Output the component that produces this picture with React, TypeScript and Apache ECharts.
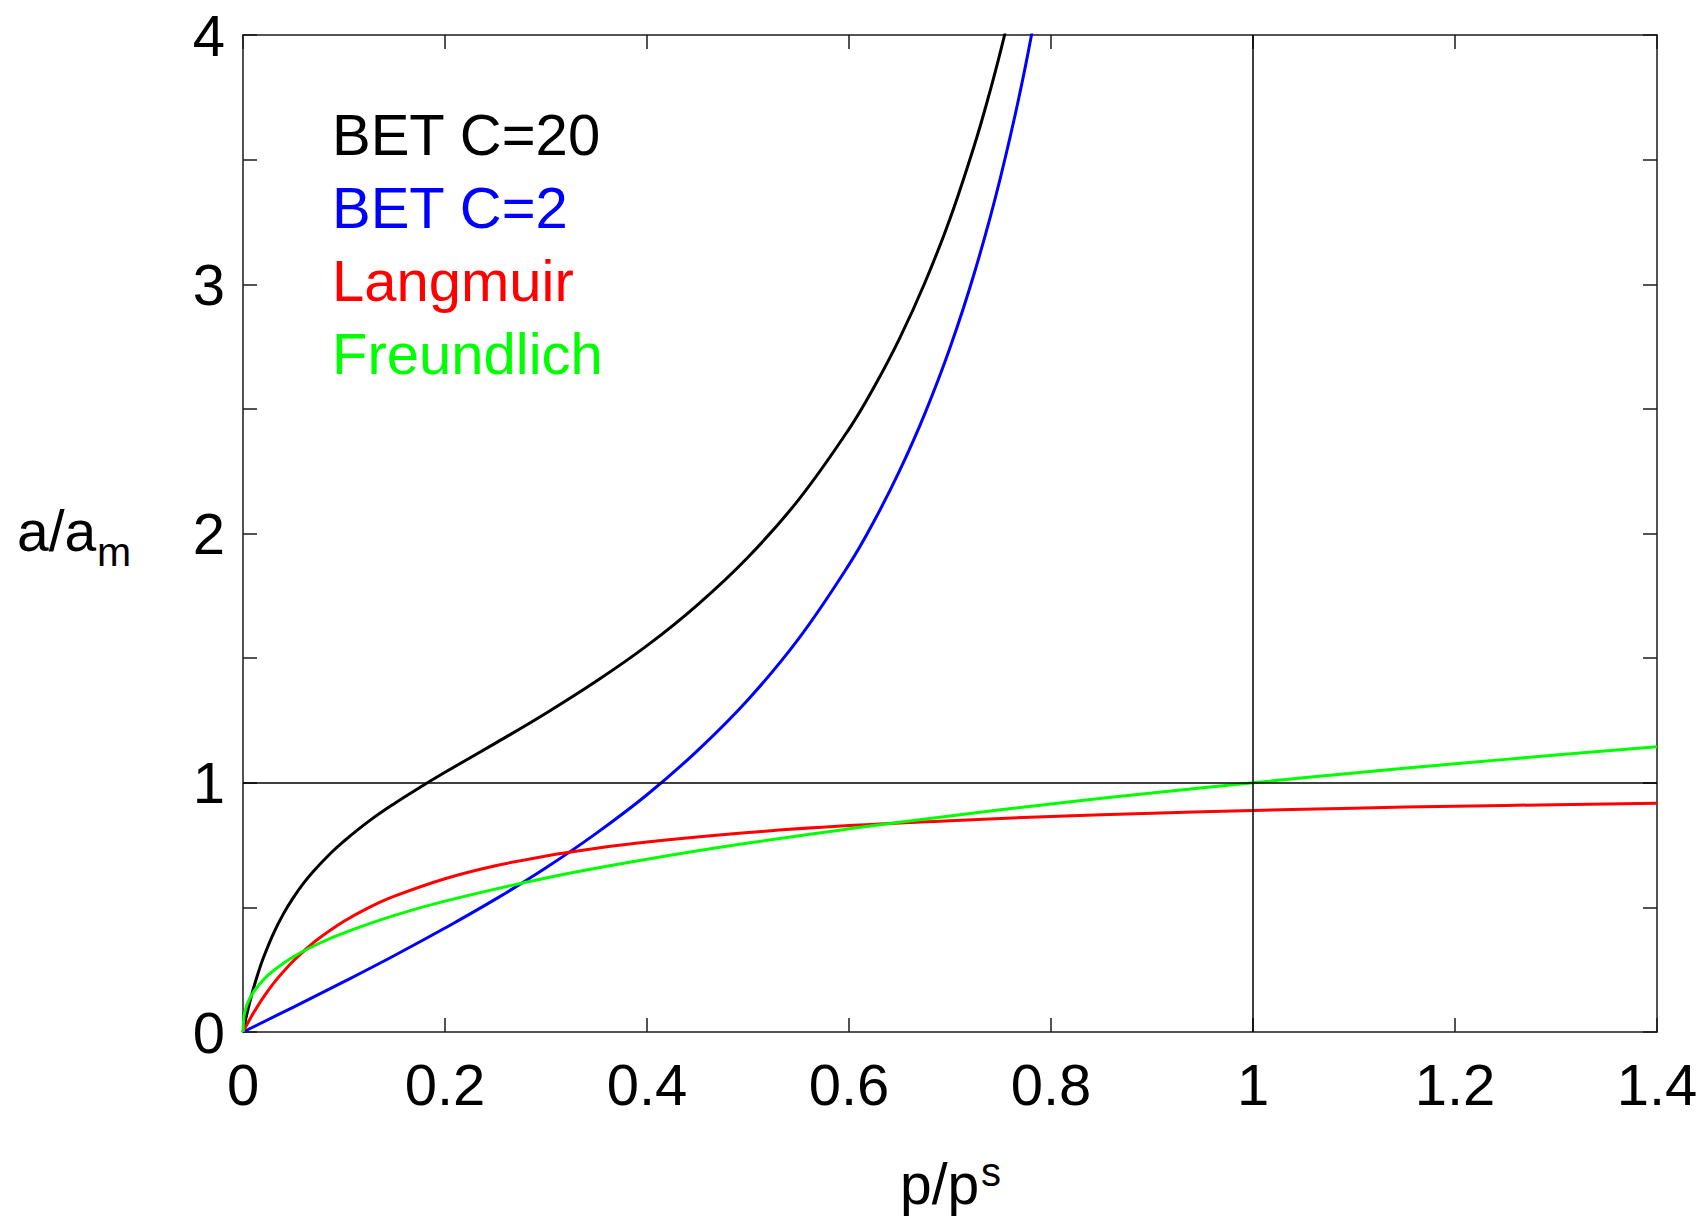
import React, { useEffect, useRef } from 'react';
import * as echarts from 'echarts';

const FONT = '"Liberation Sans", Arial, Helvetica, sans-serif';

// Series names and colours
const seriesNames = ['BET C=20', 'BET C=2', 'Langmuir', 'Freundlich'];
const seriesColors = ['#000000', '#0000ff', '#ff0000', '#00ff00'];

// BET C=20
const bet20X = [0, 0.0025, 0.005, 0.01, 0.015, 0.02, 0.03, 0.04, 0.05, 0.06, 0.07, 0.0875, 0.1, 0.125, 0.15, 0.175, 0.2, 0.25, 0.3, 0.35, 0.4, 0.45, 0.5, 0.55, 0.6, 0.625, 0.65, 0.675, 0.7, 0.725, 0.74, 0.75, 0.76, 0.775];
const bet20Y = [0, 0.048, 0.092, 0.17, 0.237, 0.296, 0.394, 0.474, 0.54, 0.597, 0.646, 0.72, 0.766, 0.847, 0.917, 0.981, 1.042, 1.159, 1.279, 1.408, 1.55, 1.714, 1.905, 2.135, 2.419, 2.589, 2.782, 3.005, 3.263, 3.569, 3.78, 3.934, 4.102, 4.381];

// BET C=2
const bet2X = [0, 0.05, 0.1, 0.15, 0.2, 0.25, 0.3, 0.35, 0.4, 0.45, 0.5, 0.55, 0.6, 0.625, 0.65, 0.675, 0.7, 0.725, 0.75, 0.775, 0.8];
const bet2Y = [0, 0.1, 0.202, 0.307, 0.417, 0.533, 0.659, 0.798, 0.952, 1.129, 1.333, 1.577, 1.875, 2.051, 2.251, 2.48, 2.745, 3.057, 3.429, 3.881, 4.444];

// Langmuir
const langX = [0, 0.0025, 0.005, 0.01, 0.015, 0.02, 0.03, 0.04, 0.05, 0.0625, 0.075, 0.1, 0.125, 0.15, 0.2, 0.25, 0.3, 0.35, 0.4, 0.5, 0.6, 0.7, 0.8, 0.9, 1.0, 1.1, 1.2, 1.3, 1.4];
const langY = [0, 0.02, 0.038, 0.074, 0.107, 0.138, 0.194, 0.242, 0.286, 0.333, 0.375, 0.444, 0.5, 0.545, 0.615, 0.667, 0.706, 0.737, 0.762, 0.8, 0.828, 0.848, 0.865, 0.878, 0.889, 0.898, 0.906, 0.912, 0.918];

// Freundlich
const freuX = [0, 0.001, 0.0025, 0.005, 0.01, 0.02, 0.03, 0.05, 0.075, 0.1, 0.15, 0.2, 0.3, 0.4, 0.5, 0.6, 0.7, 0.8, 0.9, 1.0, 1.1, 1.2, 1.3, 1.4];
const freuY = [0, 0.063, 0.091, 0.12, 0.158, 0.209, 0.246, 0.302, 0.355, 0.398, 0.468, 0.525, 0.618, 0.693, 0.758, 0.815, 0.867, 0.915, 0.959, 1.0, 1.039, 1.076, 1.111, 1.144];

// Axis ranges
const xMin = 0, xMax = 1.4, xStep = 0.2;
const yMin = 0, yMax = 4, yStep = 0.5;

// Reference lines
const refY = 1;
const refX = 1;

const allX = [bet20X, bet2X, langX, freuX];
const allY = [bet20Y, bet2Y, langY, freuY];

const axisLineStyle = { color: '#1a1a1a', width: 1.5 };

export default function App() {
  const ref = useRef<HTMLDivElement>(null);
  useEffect(() => {
    if (!ref.current) return;
    const chart = echarts.init(ref.current, undefined, { renderer: 'svg' });
    const tickCommon = { show: true, inside: true, length: 14, lineStyle: axisLineStyle };
    const option: any = {
      animation: false,
      backgroundColor: '#ffffff',
      grid: { left: 243, right: 47, top: 35, bottom: 190, containLabel: false },
      legend: {
        orient: 'vertical',
        left: 322,
        top: 100,
        icon: 'rect',
        itemWidth: 0,
        itemHeight: 0,
        itemGap: 15,
        selectedMode: false,
        textStyle: { fontSize: 58, fontFamily: FONT, lineHeight: 58 },
        data: seriesNames.map((n, i) => ({ name: n, textStyle: { color: seriesColors[i] } })),
      },
      xAxis: [
        {
          type: 'value', min: xMin, max: xMax, interval: xStep, position: 'bottom',
          axisLine: { show: true, onZero: false, lineStyle: axisLineStyle },
          axisTick: tickCommon,
          splitLine: { show: false },
          axisLabel: { show: true, margin: 23, fontSize: 58, fontFamily: FONT, color: '#000' },
        },
        {
          type: 'value', min: xMin, max: xMax, interval: xStep, position: 'top',
          axisLine: { show: true, onZero: false, lineStyle: axisLineStyle },
          axisTick: tickCommon,
          splitLine: { show: false },
          axisLabel: { show: false },
        },
      ],
      yAxis: [
        {
          type: 'value', min: yMin, max: yMax, interval: yStep, position: 'left',
          axisLine: { show: true, onZero: false, lineStyle: axisLineStyle },
          axisTick: tickCommon,
          splitLine: { show: false },
          axisLabel: {
            show: true, margin: 18, fontSize: 58, fontFamily: FONT, color: '#000',
            formatter: (v: number) => (Math.abs(v - Math.round(v)) < 1e-9 ? String(Math.round(v)) : ''),
          },
        },
        {
          type: 'value', min: yMin, max: yMax, interval: yStep, position: 'right',
          axisLine: { show: true, onZero: false, lineStyle: axisLineStyle },
          axisTick: tickCommon,
          splitLine: { show: false },
          axisLabel: { show: false },
        },
      ],
      series: seriesNames.map((name, i) => ({
        name,
        type: 'line',
        xAxisIndex: 0,
        yAxisIndex: 0,
        data: allX[i].map((x, j) => [x, allY[i][j]]),
        showSymbol: false,
        symbol: 'none',
        smooth: 0.4,
        clip: true,
        color: seriesColors[i],
        lineStyle: { color: seriesColors[i], width: 3 },
        z: 3,
        ...(i === 0
          ? {
              markLine: {
                silent: true,
                symbol: 'none',
                label: { show: false },
                lineStyle: { color: '#000', width: 1.5, type: 'solid' },
                data: [{ yAxis: refY }, { xAxis: refX }],
                z: 5,
              },
            }
          : {}),
      })),
      graphic: [
        { type: 'text', x: 17, y: 531, style: { text: 'a/a', font: `57px ${FONT}`, fill: '#000', verticalAlign: 'middle', align: 'left' } },
        { type: 'text', x: 97, y: 552, style: { text: 'm', font: `41px ${FONT}`, fill: '#000', verticalAlign: 'middle', align: 'left' } },
        { type: 'text', x: 900, y: 1184, style: { text: 'p/p', font: `57px ${FONT}`, fill: '#000', verticalAlign: 'middle', align: 'left' } },
        { type: 'text', x: 981, y: 1172, style: { text: 's', font: `40px ${FONT}`, fill: '#000', verticalAlign: 'middle', align: 'left' } },
      ],
    };
    chart.setOption(option);
    return () => chart.dispose();
  }, []);
  return (
    <div
      ref={ref}
      style={{ position: 'fixed', left: 0, top: 0, width: 1704, height: 1222, background: '#fff' }}
    />
  );
}
